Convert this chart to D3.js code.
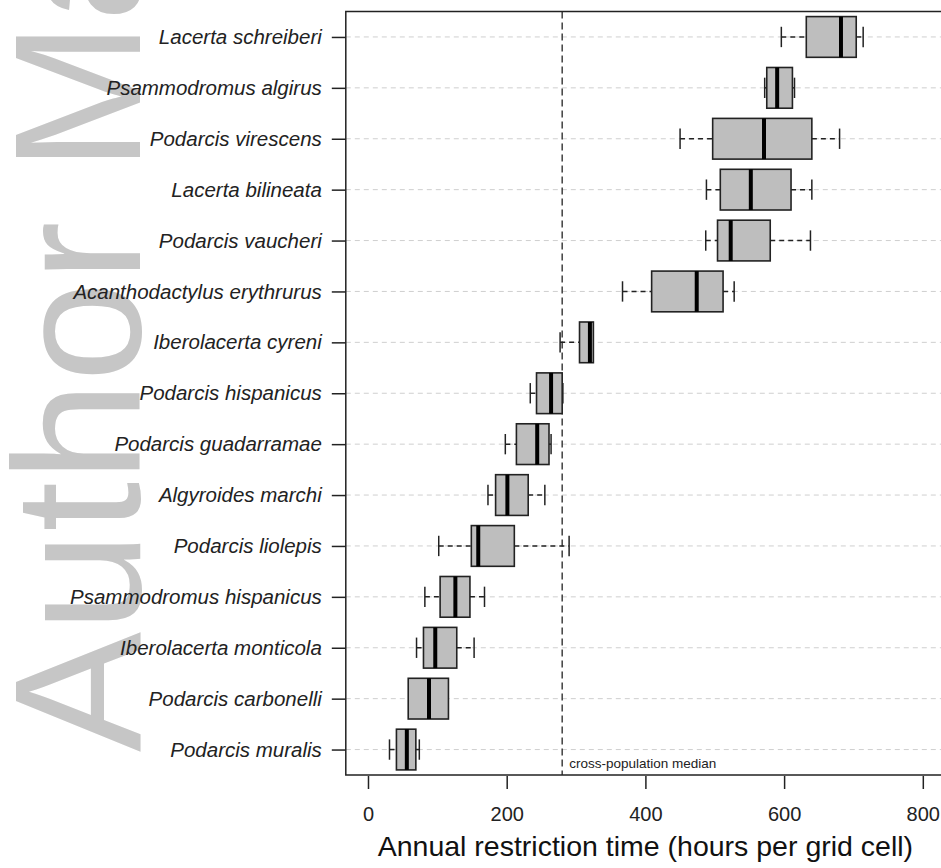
<!DOCTYPE html>
<html>
<head>
<meta charset="utf-8">
<script src="https://cdn.jsdelivr.net/npm/d3@7"></script>
<style>
  html, body { margin: 0; padding: 0; background: #fff; }
  svg { display: block; }
</style>
</head>
<body>
<svg id="chart" width="941" height="868"></svg>
<script>
// ---- data (top row first) ----
const species = [
  "Lacerta schreiberi", "Psammodromus algirus", "Podarcis virescens",
  "Lacerta bilineata", "Podarcis vaucheri", "Acanthodactylus erythrurus",
  "Iberolacerta cyreni", "Podarcis hispanicus", "Podarcis guadarramae",
  "Algyroides marchi", "Podarcis liolepis", "Psammodromus hispanicus",
  "Iberolacerta monticola", "Podarcis carbonelli", "Podarcis muralis"
];
const whiskerLow  = [596, 572, 450, 488, 487, 367, 277, 234, 198, 173, 102,  82,  70,  58, 31];
const q1          = [632, 575, 497, 508, 504, 409, 305, 243, 214, 184, 149, 104,  80,  58, 41];
const medians     = [682, 590, 571, 552, 523, 474, 320, 264, 244, 201, 159, 126,  97,  88, 56];
const q3          = [704, 612, 640, 610, 580, 512, 325, 280, 261, 231, 211, 147, 128, 116, 69];
const whiskerHigh = [714, 615, 680, 640, 638, 528, 325, 281, 264, 255, 290, 168, 153, 116, 74];
const crossMedian = 280;
const xTicks = [0, 200, 400, 600, 800];
const xTitle = "Annual restriction time (hours per grid cell)";
const medianLabel = "cross-population median";
const watermark = "Author Manuscript";

// ---- layout ----
const svg = d3.select("#chart");
const L = 345.8, R = 945, T = 11.5, B = 775;
const font = "'Liberation Sans', Arial, sans-serif";

const x = d3.scaleLinear().domain([-32, 832]).range([L, R]);
const y = d3.scalePoint().domain(species).range([T, B]).padding(0.5);
const step = y.step();
const boxH = step * 0.8;
const capH = boxH * 0.5;

// watermark
svg.append("text")
  .attr("transform", "translate(140,752) rotate(-90)")
  .attr("font-family", font)
  .attr("font-size", 180)
  .attr("fill", "#c6c6c6")
  .text(watermark);

const g = svg.append("g");

// horizontal dashed grid lines
g.selectAll("line.grid").data(species).join("line")
  .attr("class", "grid")
  .attr("x1", L).attr("x2", R)
  .attr("y1", d => y(d)).attr("y2", d => y(d))
  .attr("stroke", "#cfcfcf").attr("stroke-width", 1)
  .attr("stroke-dasharray", "5,4");

// cross-population median line
g.append("line")
  .attr("x1", x(crossMedian)).attr("x2", x(crossMedian))
  .attr("y1", T).attr("y2", B)
  .attr("stroke", "#333").attr("stroke-width", 1.4)
  .attr("stroke-dasharray", "7,4");

g.append("text")
  .attr("x", x(crossMedian) + 7).attr("y", B - 7)
  .attr("font-family", font).attr("font-size", 13.5)
  .attr("fill", "#222")
  .text(medianLabel);

// boxplots
const rows = species.map((s, i) => ({
  s, lo: whiskerLow[i], q1: q1[i], med: medians[i], q3: q3[i], hi: whiskerHigh[i]
}));

const bx = g.selectAll("g.box").data(rows).join("g").attr("class", "box");

// whiskers (dashed)
bx.append("line")
  .attr("x1", d => x(d.lo)).attr("x2", d => x(d.q1))
  .attr("y1", d => y(d.s)).attr("y2", d => y(d.s))
  .attr("stroke", "#222").attr("stroke-width", 1.5)
  .attr("stroke-dasharray", "5,4");
bx.append("line")
  .attr("x1", d => x(d.q3)).attr("x2", d => x(d.hi))
  .attr("y1", d => y(d.s)).attr("y2", d => y(d.s))
  .attr("stroke", "#222").attr("stroke-width", 1.5)
  .attr("stroke-dasharray", "5,4");
// staples
bx.filter(d => d.lo < d.q1).append("line")
  .attr("x1", d => x(d.lo)).attr("x2", d => x(d.lo))
  .attr("y1", d => y(d.s) - capH / 2).attr("y2", d => y(d.s) + capH / 2)
  .attr("stroke", "#222").attr("stroke-width", 1.5);
bx.filter(d => d.hi > d.q3).append("line")
  .attr("x1", d => x(d.hi)).attr("x2", d => x(d.hi))
  .attr("y1", d => y(d.s) - capH / 2).attr("y2", d => y(d.s) + capH / 2)
  .attr("stroke", "#222").attr("stroke-width", 1.5);
// boxes
bx.append("rect")
  .attr("x", d => x(d.q1)).attr("width", d => x(d.q3) - x(d.q1))
  .attr("y", d => y(d.s) - boxH / 2).attr("height", boxH)
  .attr("fill", "#bebebe").attr("stroke", "#222").attr("stroke-width", 1.6);
// medians
bx.append("line")
  .attr("x1", d => x(d.med)).attr("x2", d => x(d.med))
  .attr("y1", d => y(d.s) - boxH / 2).attr("y2", d => y(d.s) + boxH / 2)
  .attr("stroke", "#000").attr("stroke-width", 4);

// plot frame
svg.append("rect")
  .attr("x", L).attr("y", T).attr("width", R - L).attr("height", B - T)
  .attr("fill", "none").attr("stroke", "#222").attr("stroke-width", 1.5);

// x axis
const xAxis = svg.append("g")
  .attr("transform", `translate(0,${B + 1})`)
  .call(d3.axisBottom(x).tickValues(xTicks).tickSize(13).tickPadding(18).tickFormat(d3.format("d")));
xAxis.select(".domain").remove();
xAxis.selectAll(".tick line").attr("stroke", "#222").attr("stroke-width", 1.5);
xAxis.selectAll(".tick text")
  .attr("font-family", font).attr("font-size", 20).attr("fill", "#222");

// y axis
const yAxis = svg.append("g")
  .attr("transform", `translate(${L},0)`)
  .call(d3.axisLeft(y).tickSize(14).tickPadding(10));
yAxis.select(".domain").remove();
yAxis.selectAll(".tick line").attr("stroke", "#222").attr("stroke-width", 1.5);
yAxis.selectAll(".tick text")
  .attr("font-family", font).attr("font-size", 20.5).attr("font-style", "italic")
  .attr("fill", "#222");

// x title
svg.append("text")
  .attr("x", (L + R) / 2).attr("y", 856)
  .attr("text-anchor", "middle")
  .attr("font-family", font).attr("font-size", 28.5).attr("fill", "#111")
  .text(xTitle);
</script>
</body>
</html>
